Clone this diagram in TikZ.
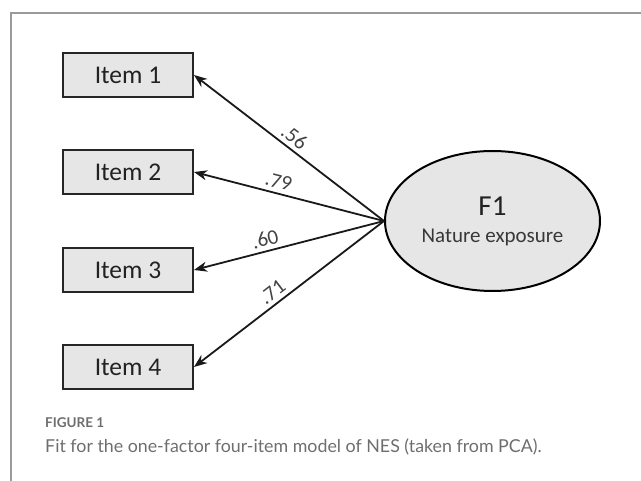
\documentclass[tikz,border=0pt]{standalone}
\usepackage{fontspec}
\setmainfont{Carlito}
\newfontfamily\capfont{Lato}
\usetikzlibrary{shapes.geometric,arrows.meta}
\definecolor{boxfill}{HTML}{E6E6E6}
\definecolor{frameg}{HTML}{9A9A9A}
\definecolor{capg}{HTML}{6E6E6E}
\definecolor{txt}{HTML}{222222}
\tikzset{
  itembox/.style={draw=black!85, line width=2pt, fill=boxfill, minimum width=130pt, minimum height=44pt, inner sep=0pt, text=txt, font=\fontsize{25.5}{28}\selectfont},
  factor/.style={ellipse, draw=black, line width=2pt, fill=boxfill, minimum width=215pt, minimum height=140pt, inner sep=0pt},
  arr/.style={line width=1.8pt, -{Stealth[length=13pt,width=10pt,inset=4pt]}, black!90},
  lab/.style={sloped, above, inner sep=4pt, text=txt!85, font=\fontsize{21}{24}\selectfont},
}
\begin{document}
\begin{tikzpicture}[x=1pt,y=-1pt]
\useasboundingbox (0,0) rectangle (641,481);
\draw[frameg, line width=1.2pt] (11,481) -- (11,13) -- (641,13);
\node[itembox] (i1) at (128,75) {Item 1};
\node[itembox] (i2) at (128,172) {Item 2};
\node[itembox] (i3) at (128,270) {Item 3};
\node[itembox] (i4) at (128,367) {Item 4};
\node[factor] (F) at (492.5,221) {};
\node[text=txt, font=\fontsize{29}{32}\selectfont, inner sep=0pt] (f1) at (492.5,206) {F1};
\node[text=txt!90, font=\fontsize{21}{24}\selectfont, inner sep=0pt] (ne) at (492.5,237) {Nature exposure};
\draw[arr] (F.west) -- node[lab, pos=0.51] {.56} (i1.east);
\draw[arr] (F.west) -- node[lab, pos=0.57] {.79} (i2.east);
\draw[arr] (F.west) -- node[lab, pos=0.61] {.60} (i3.east);
\draw[arr] (F.west) -- node[lab, pos=0.55] {.71} (i4.east);
\node[anchor=base west, inner sep=0pt, text=capg, font=\capfont\bfseries\fontsize{13.5}{15}\selectfont] (fig) at (45,428) {FIGURE 1};
\node[anchor=base west, inner sep=0pt, text=capg, font=\capfont\fontsize{17.8}{20}\selectfont] (cap) at (45,453) {Fit for the one-factor four-item model of NES (taken from PCA).};
\end{tikzpicture}
\end{document}
